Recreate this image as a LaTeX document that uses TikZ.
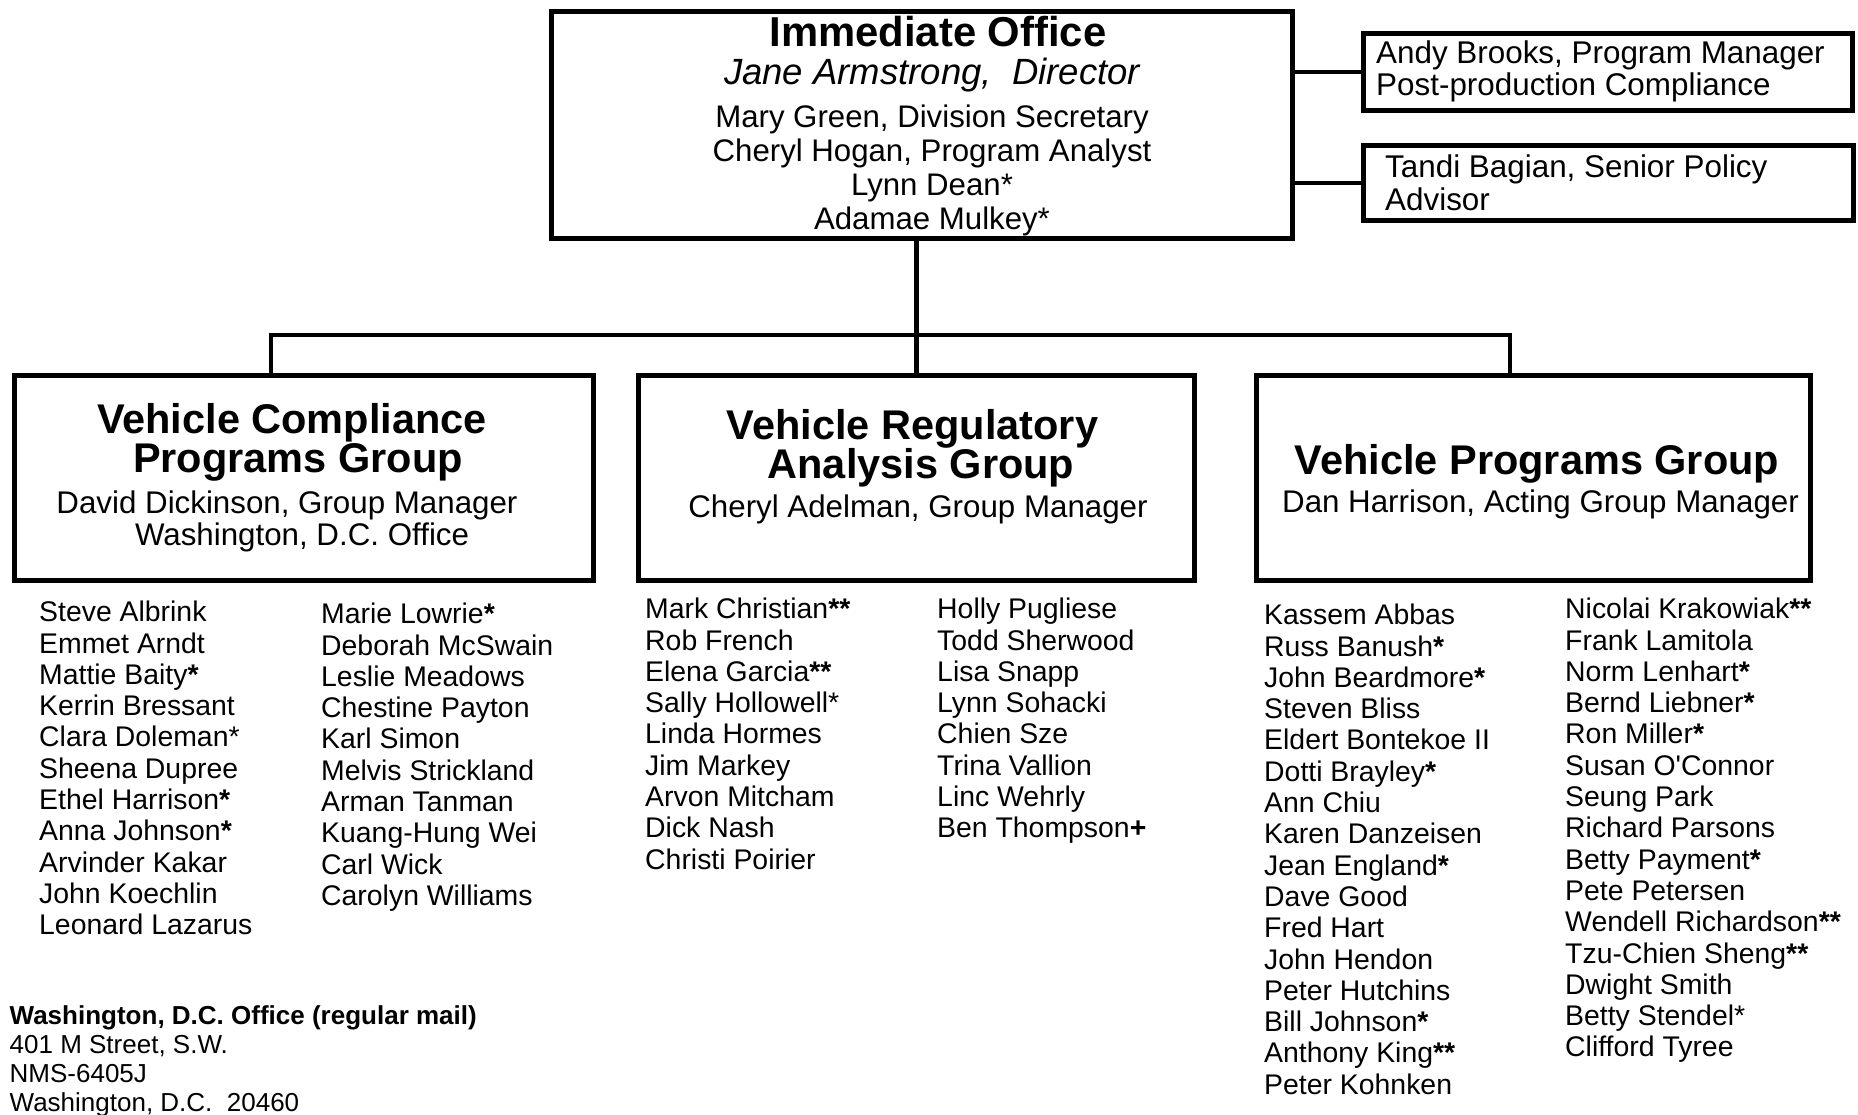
\documentclass[tikz,border=0pt]{standalone}
\usepackage{fontspec}
\setmainfont{Liberation Sans}
\newcommand{\bst}{\textbf{*}}
\newcommand{\bpl}{\textbf{+}}
\begin{document}
\begin{tikzpicture}[x=1pt,y=-1pt,
  box/.style={draw,line width=5pt,inner sep=0pt},
  conn/.style={line width=4.5pt},
  lst/.style={inner sep=0pt,align=left,anchor=north west,font=\fontsize{28.4}{31.3}\selectfont},
  ttl/.style={inner sep=0pt,align=center,font=\bfseries\fontsize{41.5}{39}\selectfont},
  subt/.style={inner sep=0pt,align=center,font=\fontsize{31.3}{32}\selectfont}]
\useasboundingbox (0,0) rectangle (1858,1115);
%%Immediate Office
\node[box,minimum width=741pt,minimum height=227pt] (io) at (922,125) {};
\node[ttl,anchor=base,font=\bfseries\fontsize{41.8}{40}\selectfont] (iot) at (938,47) {Immediate Office};
\node[subt,anchor=base,font=\itshape\fontsize{36.5}{40}\selectfont] (iod) at (932,85) {Jane Armstrong,\ \ Director};
\node[subt,anchor=north,font=\fontsize{31.2}{34}\selectfont] (ios) at (932,105) {Mary Green, Division Secretary\\Cheryl Hogan, Program Analyst\\Lynn Dean*\\Adamae Mulkey*};
%%Stab rechts
\node[box,minimum width=489pt,minimum height=77pt] (pm) at (1608,72) {};
\node[lst,font=\fontsize{31.4}{32}\selectfont] (pmt) at (1376,41) {Andy Brooks, Program Manager\\Post-production Compliance};
\node[box,minimum width=490pt,minimum height=75pt] (spa) at (1608.5,183) {};
\node[lst,font=\fontsize{31.4}{33}\selectfont] (spat) at (1385,155) {Tandi Bagian, Senior Policy\\Advisor};
\draw[conn] (io.east |- pm.west) -- (pm.west);
\draw[conn] (io.east |- spa.west) -- (spa.west);
%%Gruppen
\node[box,minimum width=579pt,minimum height=205pt] (vcp) at (304,478) {};
\node[box,minimum width=556pt,minimum height=205pt] (vra) at (916.5,478) {};
\node[box,minimum width=554pt,minimum height=205pt] (vp) at (1533.5,478) {};
\coordinate (bus) at (916,335);
\coordinate (vcpin) at (271,376);
\coordinate (vpin) at (1510,376);
\draw[conn] (io.south -| vra.north) -- (vra.north);
\draw[conn] (vcpin) |- (bus) -| (vpin);
%%
\node[ttl,anchor=north] (vcpt) at (292,403) {Vehicle Compliance\\\hspace*{12pt}Programs Group};
\node[subt,anchor=north] (vcps) at (287,491) {David Dickinson, Group Manager\\\hspace*{30pt}Washington, D.C. Office};
\node[ttl,anchor=north] (vrat) at (912.5,409) {Vehicle Regulatory\\\hspace*{17pt}Analysis Group};
\node[subt,anchor=base] (vras) at (918,517) {Cheryl Adelman, Group Manager};
\node[ttl,anchor=base] (vpt) at (1537,474) {Vehicle Programs Group};
\node[subt,anchor=base] (vps) at (1540.5,512) {Dan Harrison, Acting Group Manager};
%%Mitarbeiter
\node[lst] (vcpa) at (39,601) {Steve Albrink\\Emmet Arndt\\Mattie Baity\bst\\Kerrin Bressant\\Clara Doleman*\\Sheena Dupree\\Ethel Harrison\bst\\Anna Johnson\bst\\Arvinder Kakar\\John Koechlin\\Leonard Lazarus};
\node[lst] (vcpb) at (321,603) {Marie Lowrie\bst\\Deborah McSwain\\Leslie Meadows\\Chestine Payton\\Karl Simon\\Melvis Strickland\\Arman Tanman\\Kuang-Hung Wei\\Carl Wick\\Carolyn Williams};
\node[lst] (vraa) at (645,598) {Mark Christian\bst\bst\\Rob French\\Elena Garcia\bst\bst\\Sally Hollowell*\\Linda Hormes\\Jim Markey\\Arvon Mitcham\\Dick Nash\\Christi Poirier};
\node[lst] (vrab) at (937,598) {Holly Pugliese\\Todd Sherwood\\Lisa Snapp\\Lynn Sohacki\\Chien Sze\\Trina Vallion\\Linc Wehrly\\Ben Thompson\bpl};
\node[lst] (vpa) at (1264,604) {Kassem Abbas\\Russ Banush\bst\\John Beardmore\bst\\Steven Bliss\\Eldert Bontekoe II\\Dotti Brayley\bst\\Ann Chiu\\Karen Danzeisen\\Jean England\bst\\Dave Good\\Fred Hart\\John Hendon\\Peter Hutchins\\Bill Johnson\bst\\Anthony King\bst\bst\\Peter Kohnken};
\node[lst] (vpb) at (1565,598) {Nicolai Krakowiak\bst\bst\\Frank Lamitola\\Norm Lenhart\bst\\Bernd Liebner\bst\\Ron Miller\bst\\Susan O\textquotesingle Connor\\Seung Park\\Richard Parsons\\Betty Payment\bst\\Pete Petersen\\Wendell Richardson\bst\bst\\Tzu-Chien Sheng\bst\bst\\Dwight Smith\\Betty Stendel*\\Clifford Tyree};
%%Adresse
\node[lst,font=\fontsize{26}{29}\selectfont] (addr) at (9.5,1005) {\textbf{Washington, D.C. Office (regular mail)}\\401 M Street, S.W.\\NMS-6405J\\Washington, D.C.\ \ 20460};
\end{tikzpicture}
\end{document}
